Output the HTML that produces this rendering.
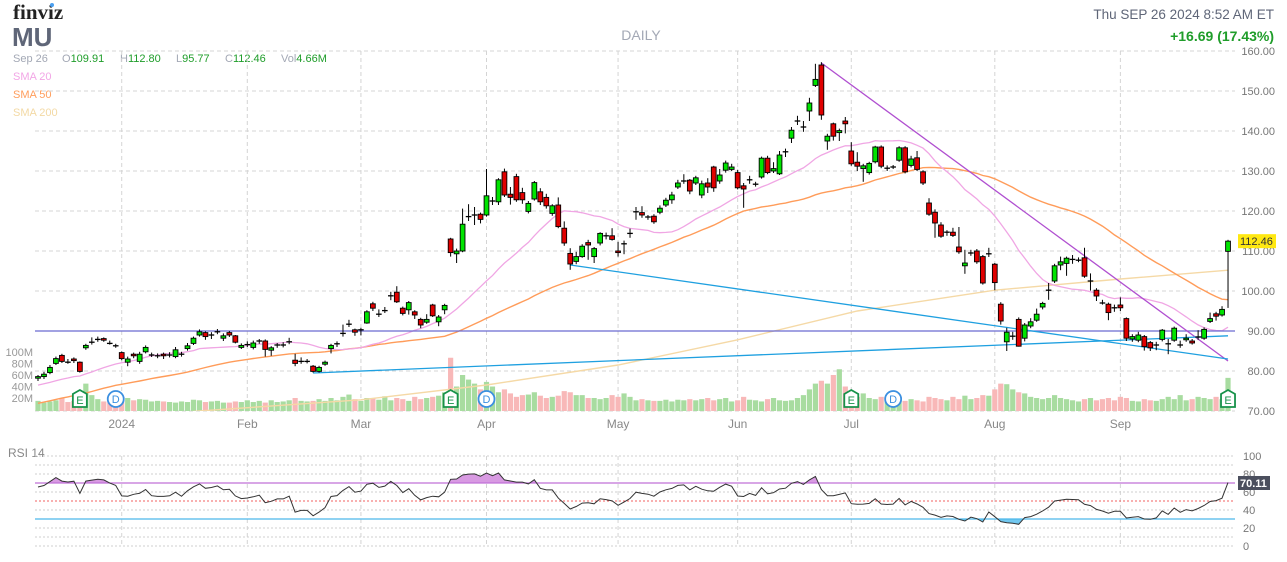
<!DOCTYPE html>
<html><head><meta charset="utf-8"><style>
html,body{margin:0;padding:0;background:#fff;width:1287px;height:562px;overflow:hidden;font-family:"Liberation Sans",Arial,sans-serif}
svg text{font-family:"Liberation Sans",Arial,sans-serif}
</style></head><body>
<svg id="chart" width="1287" height="562" viewBox="0 0 1287 562" xmlns="http://www.w3.org/2000/svg">
<defs>
<clipPath id="priceClip"><rect x="35" y="44" width="1200" height="367"/></clipPath>
<clipPath id="ob"><rect x="35" y="440" width="1200" height="43"/></clipPath>
<clipPath id="os"><rect x="35" y="519" width="1200" height="40"/></clipPath>
</defs>
<text x="13" y="19" font-weight="bold" font-size="21" fill="#222" style="font-family:'Liberation Serif',serif">finviz</text>
<circle cx="52" cy="5" r="2" fill="#4a9ff0"/>
<text x="12" y="46" font-size="26" font-weight="bold" fill="#5f6678">MU</text>
<text x="641" y="40" font-size="14" fill="#a3a8b5" text-anchor="middle">DAILY</text>
<text x="1274" y="19" font-size="13.5" fill="#5f6678" text-anchor="end">Thu SEP 26 2024 8:52 AM ET</text>
<text x="1274" y="41" font-size="14" font-weight="bold" fill="#1f9d2a" text-anchor="end">+16.69 (17.43%)</text>
<g font-size="11">
<text x="13" y="62" fill="#a3a8b5">Sep 26</text>
<text x="62" y="62" fill="#a3a8b5">O<tspan fill="#1f9d2a">109.91</tspan></text>
<text x="120" y="62" fill="#a3a8b5">H<tspan fill="#1f9d2a">112.80</tspan></text>
<text x="176" y="62" fill="#a3a8b5">L<tspan fill="#1f9d2a">95.77</tspan></text>
<text x="225" y="62" fill="#a3a8b5">C<tspan fill="#1f9d2a">112.46</tspan></text>
<text x="281" y="62" fill="#a3a8b5">Vol<tspan fill="#1f9d2a">4.66M</tspan></text>
</g>
<text x="13" y="80" font-size="11" fill="#f2a6e6">SMA 20</text>
<text x="13" y="98" font-size="11" fill="#ff9d5c">SMA 50</text>
<text x="13" y="116" font-size="11" fill="#f3d9a4">SMA 200</text>
<text x="8" y="457" font-size="12" fill="#888">RSI 14</text>
<g id="grid"></g>
<g id="vol"></g>
<g id="price" clip-path="url(#priceClip)"></g>
<g id="rsi"></g>
<g id="axes"></g>
</svg>
<script>
const opens=[78.2,78.6,79.6,81.9,83.9,82.3,83,82.2,85.8,87.1,87.8,88.1,87.2,86.4,84.6,82.2,84.2,82.4,84.8,84,83.8,84.2,84,83.6,84.2,85.6,86.9,89,89.6,89,89.8,88.2,89.6,88.8,85.9,86.6,85.9,87.5,87.5,85.2,86.5,86.5,87.3,82.7,82.4,82.4,81.2,79.9,81.7,85.6,86.8,89.4,91.7,90.3,90.3,92,96.8,94.2,95.1,98.8,99.7,95.7,95.3,94.8,92.9,92.2,96.5,92.3,95.3,113,109.3,110,118.6,119,119.2,119,122.5,122.3,129.8,124.2,128.6,124.6,119.9,123,124.8,123.4,119.4,121.5,115.7,109.4,107.4,108.6,112.1,108.6,112,113.8,113.8,110,111.8,114.4,119.8,119.6,118.2,118.7,119.7,121.5,122.8,126,127.5,127.7,127,124,127,131,127.5,130.2,130.4,129.6,126.3,127.8,126.7,128.5,133.2,130,129.3,134.8,138.2,142.5,141,145,151.4,156.5,137.5,141.8,139.6,142.5,135,132.2,130.6,129.6,132.3,136,130.7,131,132.7,135.8,131.4,133.3,129.8,122,119.7,116.5,114.7,114.7,111,106.3,109.5,110,108.6,109.3,106.7,96.7,87.3,88.7,92.9,88.2,91.25,92.7,96,100.2,102.5,106.5,106.9,107.9,107.7,108.3,102.5,100.2,97.3,96.7,96,96.5,93.1,88,87.7,88.6,87.1,86.5,87.9,86.8,87.7,86.5,87.8,87.5,88.5,88.2,92.4,94.3,94,109.91];
const highs=[79,79.8,81.5,83.6,84.3,83,83.4,82.4,86.8,88.4,88.6,88.4,87.6,86.8,84.9,83.6,84.6,84.8,86.4,84.6,84.4,84.6,84.7,86,84.8,87,88.6,90.4,89.9,89.7,90.5,89.4,90,89,86.9,87.4,87.6,88,87.9,86.2,87,87.2,88.3,84.3,83.4,83,81.5,81.3,82.6,86.8,87.4,91.6,92.8,90.6,90.8,95.2,97.3,95.4,96,99.8,101.2,96.1,97.5,95.2,93.3,94.2,96.8,94,96.8,113.3,110.6,120.6,121.7,121,119.6,130.5,123.5,128.2,130.6,126,129.3,125.8,122.5,127.5,125.7,124.3,121.7,123.4,117.4,110.7,109.8,111.7,112.8,111,114.7,114.6,115.7,112.3,112.6,115.6,121,121.2,119,119.2,121.4,123.3,124.8,127.8,129.2,128,128.8,127.6,128.2,131.3,130.5,132.6,131.8,130.3,127,128.8,127.3,133.6,133.8,132.2,135,135.6,141,143.8,142.5,148.3,156.8,157.2,139.3,142.1,140.6,143.5,137.2,134.7,131.8,132.3,136.3,136.4,131.4,131.5,136.2,136.2,133.8,135,130.2,123.2,120.4,117.2,115.2,115.8,116,110.3,110.3,110.5,109,110.8,107,97.2,90.8,89.8,93.4,92,93.2,95.6,97.3,102,106.8,108.6,108.6,109,108.4,110.8,104.4,100.7,97.8,97.1,96.6,98.4,93.4,89.2,89.8,89,87.5,87.3,90.5,88,91.1,87.6,89.2,88,90.2,90.9,94.6,94.8,96.2,112.8];
const lows=[77.5,78,79.2,81.5,82,81.8,82,79.6,85.3,86.6,87.3,87.3,86.6,85.8,82.7,81.2,83.2,81.8,84.4,83.5,83.2,83,83.4,83.2,83.6,85.1,86.5,88.6,87.8,88,89.2,87.5,88.5,86.9,85.5,86,85.4,86.8,83.6,83.8,85.8,85.9,86.7,81.2,81.8,81.9,79.6,79.6,81.3,84.4,86,88.6,91,88.8,88.9,91.8,95,93.5,94.5,97.7,97,93.9,94.1,93,90.7,91.8,93.5,91.2,94.2,108.6,107,109.7,117.5,116.5,116.9,118.6,121.5,121.5,123.5,121.6,122.3,121.8,119.4,122.6,121.5,120.6,118.8,115.7,111.3,105.3,106.7,108.3,107.8,107,111.4,112.9,112.6,108.6,109.2,113.3,117.8,118.3,117.8,116.8,119.2,121,121.8,125.5,126.8,124.2,126.5,123.2,124.5,124.8,126.8,129.6,130,125.4,120.8,126.8,126.1,128.1,129.2,129.5,129,133.5,137,141.5,139.8,142.5,151,142.8,135.3,137.6,137.5,139.4,131.3,130,127.3,129.1,131.9,130.7,130,130.5,132.3,129.4,130.9,130,126.5,118.8,113.3,113.3,113.8,113.5,109.3,104.3,108.8,106.8,101.6,108.5,100.2,91.6,85,87.8,86.1,87.4,90.7,92.3,95.4,97.8,102,105.2,103.8,106.8,107.2,103.3,100.1,97.5,96.6,92.7,94.8,95,87.5,87.3,87.2,85.1,85,85.2,87.4,84.2,87.3,85.8,87.3,86.6,87.8,87.8,92,92.6,93.6,95.77];
const closes=[78.6,79.2,80.9,83.1,82.4,82.2,82.6,79.9,86.4,87.2,87.9,87.7,86.9,86.3,83.1,83,83.8,84.2,85.9,84,83.8,83.8,84,85.3,84.2,86.3,88.2,89.8,88.6,89,89.8,88.8,89,87.2,86.4,86.6,87,87.5,85.4,85.8,86.5,86.5,87.3,81.9,82.4,82.4,79.9,80.9,82.2,86.4,86.8,89.4,91.7,89.7,90.3,94.8,95.7,94.2,95.1,98.8,97.3,94.4,97.1,94,91.5,92.9,93.8,93.5,96.4,109.6,110,116.7,118.6,119,117.9,123.8,122.5,127.8,124,123.4,122.8,122.8,121.9,127.1,122.3,121.3,121.3,116.1,112,106.75,108.6,111.2,111.5,110.6,114.4,113.8,112.9,109.6,111.8,114.4,119.8,119,118.5,117.3,120.7,122.7,124,127,127.5,125,128.3,126.8,126,125.8,129,132,131,125.8,125.5,127.8,126.7,133.2,129.6,130.6,134,134.8,140.2,142.5,141,147,152.9,144,138.7,138.7,140.1,141.8,131.8,131.2,131.3,131.9,136,131.2,130.7,131,135.8,129.8,133,130.4,127,119.2,117,113.7,114.7,113.9,109.8,107,109.5,107.3,102,109.3,102.1,92.5,89.7,88.7,86.2,91.5,92.3,94.2,96.9,100.2,106.3,107.3,108.2,107.9,107.7,103.7,102.5,98.75,97,94.6,95.8,95.8,88.2,88.6,89,86.1,85.8,86.5,90.2,86.8,90.7,86.5,88.2,87,88.5,90.4,93.1,93.7,95.4,112.46];
const volumes=[15,12,14,16,20,13,15,22,45,25,18,14,12,13,22,20,16,18,17,14,15,14,13,12,14,13,17,16,13,14,15,12,12,14,13,16,13,15,12,16,13,14,16,20,15,14,15,18,15,20,16,22,26,18,15,20,20,17,23,16,20,18,15,22,18,20,22,24,30,90,40,60,52,45,35,48,40,30,35,28,22,25,26,30,24,20,22,24,32,30,25,25,20,20,18,20,25,22,28,22,16,18,16,15,15,17,14,17,16,18,16,18,20,16,18,20,14,16,22,17,16,14,18,20,16,15,16,20,25,35,45,50,45,60,70,40,25,22,28,20,18,22,16,20,18,15,18,16,14,22,20,18,16,22,18,24,18,20,25,24,35,45,44,35,30,28,22,20,18,20,25,20,18,16,14,18,20,16,18,20,16,22,20,15,14,18,16,15,18,22,18,25,16,18,22,20,18,22,18,55];
const priorCloses=[64,65,66,65.5,67,66,67.5,68,67,66.5,68,69,68.5,70,69,70.5,71,70,69.5,70,71,72,71.5,70.5,71,70,69,70,71.5,72,73,74,75,74.5,76,75.5,77,76,77.5,76.5,77,78,77.5,76.8,77.5,78,77,76.5,77.8];
const sma200Idx=[0,27,54,75,97,117,137,160,181,199];
const sma200Val=[66.5,70,72.8,76.5,81.5,87.8,95,100.2,103,105.2];
const priceTicks=[160,150,140,130,120,110,100,90,80,70];
const volTicks=[100,80,60,40,20];
const rsiTicks=[100,80,60,40,20,0];
const monthLabels=['2024','Feb','Mar','Apr','May','Jun','Jul','Aug','Sep'];
const monthIdx=[14,35,54,75,97,117,136,160,181];
const earningsIdx=[7,69,136,199];
const dividendIdx=[13,75,143];
const hLevel=[90];
const trendStartIdx=[131,89,46];
const trendStartVal=[157,106.5,79.5];
const trendEndIdx=[199,199,199];
const trendEndVal=[82.5,83,88.8];
const trendColors=['#b04fd0','#1fa0e0','#1fa0e0'];

const NS='http://www.w3.org/2000/svg';
const xOf=i=>38+i*5.98;
const yP=p=>51+(160-p)*4;
const yV=v=>409.5-v*0.575;
const yR=r=>546-r*0.9;
const X0=35,X1=1235;
function el(tag,attrs,parent){const e=document.createElementNS(NS,tag);for(const k in attrs)e.setAttribute(k,attrs[k]);parent.appendChild(e);return e;}
const G=document.getElementById('grid'),V=document.getElementById('vol'),P=document.getElementById('price'),R=document.getElementById('rsi'),A=document.getElementById('axes');

priceTicks.forEach(t=>{
 const l=el('line',{x1:X0,x2:X1,y1:yP(t),y2:yP(t),stroke:'#d4d4d4','stroke-dasharray':'4,3'},G);
 
 
 const tx=el('text',{x:1275,y:yP(t)+4,'font-size':11,fill:'#777','text-anchor':'end'},A);
 tx.textContent=t.toFixed(2);
 
 
});
monthIdx.forEach((m,k)=>{
 const x=xOf(m);
 const l=el('line',{x1:x,x2:x,y1:51,y2:411,stroke:'#d4d4d4','stroke-dasharray':'4,3'},G);
 
 
 const l2=el('line',{x1:x,x2:x,y1:456,y2:546,stroke:'#d4d4d4','stroke-dasharray':'4,3'},G);
 
 
 const tx=el('text',{x:x,y:428,'font-size':12,fill:'#888','text-anchor':'middle'},A);
 tx.textContent=monthLabels[k];
 
 
});
volTicks.forEach(v=>{
 const tx=el('text',{x:33,y:yV(v)+4,'font-size':11,fill:'#999','text-anchor':'end'},A);
 tx.textContent=v+'M';
 
 
});
for(let r=0;r<=100;r+=10){
 if(r===70||r===30||r===50)continue;
 const l=el('line',{x1:X0,x2:X1,y1:yR(r),y2:yR(r),stroke:'#cfcfcf','stroke-dasharray':'2,2'},G);
 
 
}
rsiTicks.forEach(r=>{
 const tx=el('text',{x:1243,y:yR(r)+4,'font-size':11,fill:'#777'},A);
 tx.textContent=r;
 
 
});

volumes.forEach((v,i)=>{
 const up=closes[i]>=opens[i];
 const b=el('rect',{x:xOf(i)-2.6,y:yV(v),width:5.2,height:409.5-yV(v)+1.5,fill:up?'#a8dca0':'#f8b8b8'},V);
 
 
});

const all=priorCloses.concat(closes),off=priorCloses.length;
function sma(n){return closes.map((c,i)=>{const j=i+off;let s=0,k=0;for(let q=Math.max(0,j-n+1);q<=j;q++){s+=all[q];k++;}return s/k;});}
function poly(vals,color,name,w){
 const pts=vals.map((v,i)=>xOf(i).toFixed(1)+','+yP(v).toFixed(1)).join(' ');
 const pl=el('polyline',{points:pts,fill:'none',stroke:color,'stroke-width':w||1.3},P);
 
 
}
const s200pts=sma200Idx.map((i,k)=>xOf(i).toFixed(1)+','+yP(sma200Val[k]).toFixed(1)).join(' ');
const s200=el('polyline',{points:s200pts,fill:'none',stroke:'#f5d9a6','stroke-width':1.4},P);


poly(sma(50),'#ff9c5a','sma50-line',1.4);
poly(sma(20),'#f0a6e4','sma20-line',1.3);

hLevel.forEach(h=>{
 const l=el('line',{x1:X0,x2:X1,y1:yP(h),y2:yP(h),stroke:'#6b6bd0','stroke-width':1.2},P);
 
 
});
trendStartIdx.forEach((s,k)=>{
 const l=el('line',{x1:xOf(s),y1:yP(trendStartVal[k]),x2:xOf(trendEndIdx[k]),y2:yP(trendEndVal[k]),stroke:trendColors[k],'stroke-width':1.3},P);
 
 
});

closes.forEach((c,i)=>{
 const o=opens[i],x=xOf(i);
 const w=el('line',{x1:x,x2:x,y1:yP(highs[i]),y2:yP(lows[i]),stroke:'#000','stroke-width':1},P);
 
 
 if(Math.abs(c-o)<0.35){
  const d=el('line',{x1:x-2.8,x2:x+2.8,y1:yP(c),y2:yP(c),stroke:'#000','stroke-width':1.3},P);
  
  
 } else {
  const top=yP(Math.max(o,c)),bot=yP(Math.min(o,c));
  const b=el('rect',{x:x-2.4,y:top,width:4.8,height:Math.max(1,bot-top),fill:c>o?'#00e400':'#e00000',stroke:'#000','stroke-width':0.9},P);
  
  
 }
});

earningsIdx.forEach(i=>{
 const x=xOf(i),y=399;
 const g=el('g',{},A);
 
 
 el('path',{d:`M${x-7},${y-5} L${x},${y-9} L${x+7},${y-5} L${x+7},${y+8} L${x-7},${y+8} Z`,fill:'#fff',stroke:'#17924a','stroke-width':1.8},g);
 const t=el('text',{x:x,y:y+5,'font-size':11,fill:'#17924a','text-anchor':'middle'},g);
 t.textContent='E';
});
dividendIdx.forEach(i=>{
 const x=xOf(i),y=399;
 const g=el('g',{},A);
 
 
 el('circle',{cx:x,cy:y,r:8,fill:'#fff',stroke:'#3b8fe0','stroke-width':1.8},g);
 const t=el('text',{x:x,y:y+4,'font-size':11,fill:'#3b8fe0','text-anchor':'middle'},g);
 t.textContent='D';
});

const last=closes[closes.length-1];
const tagG=el('g',{},A);


el('rect',{x:1238,y:yP(last)-7,width:38,height:14,fill:'#ffe812'},tagG);
const tt=el('text',{x:1240,y:yP(last)+4,'font-size':11,fill:'#333'},tagG);
tt.textContent=last.toFixed(2);

const rsi=[];
{let ag=0,al=0;const n=14;
 for(let j=1;j<all.length;j++){
  const d=all[j]-all[j-1],g=Math.max(d,0),l=Math.max(-d,0);
  if(j<=n){ag+=g/n;al+=l/n;}else{ag=(ag*(n-1)+g)/n;al=(al*(n-1)+l)/n;}
  if(j>=off)rsi.push(al===0?100:100-100/(1+ag/al));
 }}
const rpts=rsi.map((r,i)=>[xOf(i),yR(r)]);
const ptsStr=rpts.map(p=>p[0].toFixed(1)+','+p[1].toFixed(1)).join(' ');
const fb=el('polygon',{points:ptsStr+` ${xOf(rsi.length-1)},${yR(70)} ${xOf(0)},${yR(70)}`,fill:'#d89ae2','clip-path':'url(#ob)'},R);


const fs=el('polygon',{points:ptsStr+` ${xOf(rsi.length-1)},${yR(30)} ${xOf(0)},${yR(30)}`,fill:'#72c8f0','clip-path':'url(#os)'},R);


const l70=el('line',{x1:X0,x2:X1,y1:yR(70),y2:yR(70),stroke:'#c070d8','stroke-width':1.2},R);


const l50=el('line',{x1:X0,x2:X1,y1:yR(50),y2:yR(50),stroke:'#f06060','stroke-dasharray':'2,2'},R);


const l30=el('line',{x1:X0,x2:X1,y1:yR(30),y2:yR(30),stroke:'#4cb8ea','stroke-width':1.2},R);


const rl=el('polyline',{points:ptsStr,fill:'none',stroke:'#333','stroke-width':1},R);


const rg=el('g',{},A);


el('rect',{x:1238,y:yR(70)-7,width:32,height:14,fill:'#4b4f5e'},rg);
const rt=el('text',{x:1240,y:yR(70)+4,'font-size':11,'font-weight':'bold',fill:'#fff'},rg);
rt.textContent='70.11';
</script>
</body></html>
